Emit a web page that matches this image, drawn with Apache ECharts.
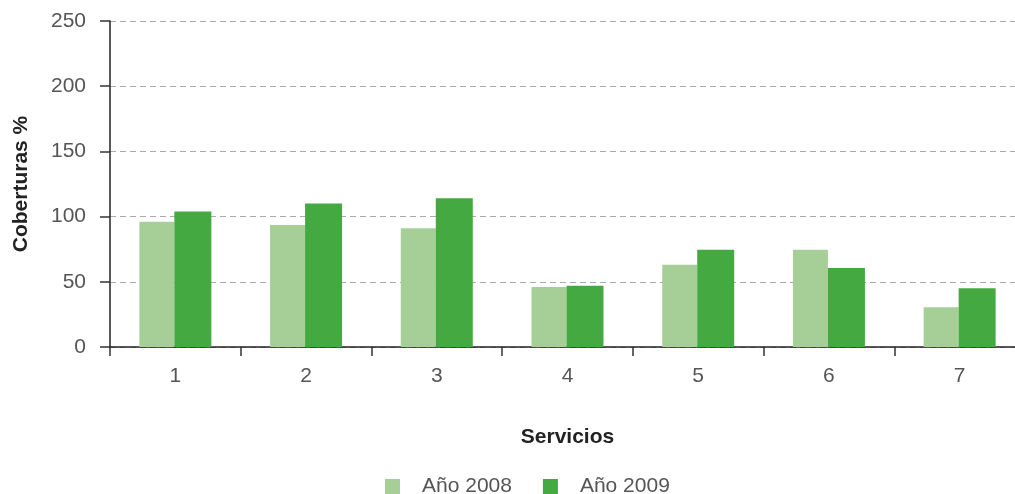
<!DOCTYPE html>
<html><head><meta charset="utf-8">
<script src="https://cdn.jsdelivr.net/npm/echarts@6/dist/echarts.min.js"></script>
<style>html,body{margin:0;padding:0;background:#fff}#c{width:1015px;height:494px}</style>
</head><body><div id="c"></div>
<script>
const categories = ['1','2','3','4','5','6','7'];
const serie2008 = [96, 93.5, 91, 46, 63, 74.5, 30.5];
const serie2009 = [104, 110, 114, 47, 74.5, 60.5, 45];
const seriesNames = ['Año 2008','Año 2009'];
const yTicks = {min:0, max:250, interval:50};

const font = '"Liberation Sans", Arial, sans-serif';
const chart = echarts.init(document.getElementById('c'));
chart.setOption({
  animation:false,
  grid:{left:110, right:-10, top:21, bottom:147, containLabel:false, outerBoundsMode:'none'},
  legend:{
    top:471, left:380, itemWidth:15, itemHeight:15, itemGap:31, icon:'rect',
    textStyle:{fontFamily:font, fontSize:21, color:'#555', padding:[0,0,0,17]},
    data:seriesNames
  },
  xAxis:{
    type:'category', data:categories,
    name:'Servicios', nameLocation:'middle', nameGap:80,
    nameTextStyle:{fontFamily:font, fontSize:21, fontWeight:'bold', color:'#222'},
    axisLine:{lineStyle:{color:'#222', width:1.5}},
    axisTick:{show:true, length:9, lineStyle:{color:'#333', width:1.5}},
    axisLabel:{fontFamily:font, fontSize:21, color:'#555', margin:19}
  },
  yAxis:{
    type:'value', min:yTicks.min, max:yTicks.max, interval:yTicks.interval,
    name:'Coberturas %', nameLocation:'middle', nameGap:78,
    nameTextStyle:{fontFamily:font, fontSize:21, fontWeight:'bold', color:'#222'},
    axisLine:{show:true, lineStyle:{color:'#222', width:1.5}},
    axisTick:{show:true, length:10, lineStyle:{color:'#333', width:1.5}},
    axisLabel:{fontFamily:font, fontSize:21, color:'#555', margin:24},
    splitLine:{show:true, lineStyle:{color:'#aaa', type:[6,4], width:1.2}}
  },
  series:[
    {name:seriesNames[0], type:'bar', data:serie2008, barWidth:35, barGap:'0%', itemStyle:{color:'#a5cf97'}},
    {name:seriesNames[1], type:'bar', data:serie2009, barWidth:37, barGap:'0%', itemStyle:{color:'#45a942'}}
  ]
});
</script></body></html>
